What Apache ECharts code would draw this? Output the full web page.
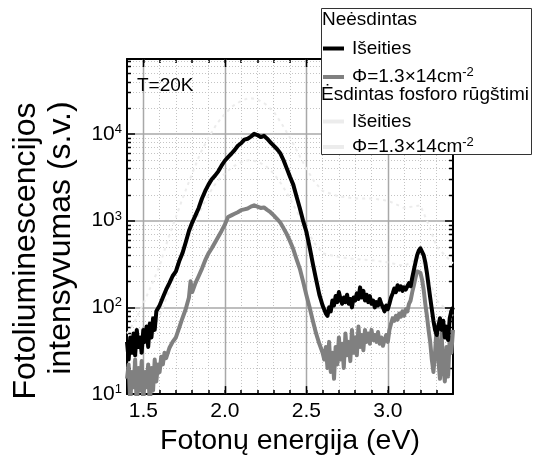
<!DOCTYPE html>
<html><head><meta charset="utf-8">
<script src="https://cdn.jsdelivr.net/npm/echarts@6/dist/echarts.min.js"></script>
<style>html,body{margin:0;padding:0;background:#fff}#c{width:539px;height:461px}</style>
</head><body><div id="c"></div>
<script>
// ---- data ----
var energyBlack = [1.40,1.41,1.42,1.43,1.44,1.45,1.46,1.47,1.48,1.49,1.50,1.51,1.52,1.53,1.54,1.55,1.56,1.57,1.58,1.60,1.62,1.64,1.66,1.68,1.70,1.72,1.74,1.76,1.78,1.80,1.82,1.84,1.86,1.88,1.90,1.92,1.94,1.96,1.98,2.00,2.02,2.04,2.06,2.08,2.10,2.12,2.14,2.16,2.18,2.20,2.22,2.24,2.26,2.28,2.30,2.32,2.34,2.36,2.38,2.40,2.42,2.44,2.46,2.48,2.50,2.52,2.54,2.56,2.58,2.60,2.62,2.63,2.64,2.65,2.66,2.67,2.68,2.69,2.70,2.71,2.72,2.73,2.74,2.75,2.76,2.77,2.78,2.79,2.80,2.81,2.82,2.83,2.84,2.85,2.86,2.87,2.88,2.89,2.90,2.91,2.92,2.93,2.94,2.95,2.96,2.97,2.98,2.99,3.00,3.01,3.02,3.03,3.04,3.05,3.06,3.07,3.08,3.09,3.10,3.11,3.12,3.13,3.14,3.15,3.16,3.17,3.18,3.19,3.20,3.21,3.22,3.23,3.24,3.25,3.26,3.27,3.28,3.29,3.30,3.31,3.32,3.33,3.34,3.35,3.36,3.37,3.38,3.39,3.40];
var intensityBlack = [40,25,45,30,50,28,55,35,45,30,55,40,60,35,65,45,75,55,90,105,130,160,190,230,260,340,420,560,760,950,1150,1400,1800,2200,2600,3000,3300,3700,4300,4900,5400,5900,6500,7300,7800,8600,8800,9300,10000,9700,9200,9500,8800,8000,7300,6700,6000,5000,4000,3200,2600,1900,1400,1000,750,500,320,210,140,105,85,80,100,90,120,105,135,115,150,125,110,130,115,140,110,125,100,130,120,145,125,170,130,155,120,140,115,135,110,120,100,115,105,125,110,100,90,105,95,110,130,145,165,150,180,160,175,155,170,160,175,190,175,220,270,330,400,450,480,460,400,330,250,180,130,95,70,55,48,60,75,55,70,45,60,42,75,90,100];

var energyGray = [1.40,1.41,1.42,1.43,1.44,1.45,1.46,1.47,1.48,1.49,1.50,1.51,1.52,1.53,1.54,1.55,1.56,1.57,1.58,1.59,1.60,1.61,1.62,1.63,1.64,1.66,1.68,1.70,1.72,1.74,1.76,1.78,1.79,1.80,1.82,1.84,1.86,1.88,1.90,1.92,1.94,1.96,1.98,2.00,2.02,2.04,2.06,2.08,2.10,2.12,2.14,2.16,2.18,2.20,2.22,2.24,2.26,2.28,2.30,2.32,2.34,2.36,2.38,2.40,2.42,2.44,2.46,2.48,2.50,2.52,2.54,2.56,2.58,2.60,2.61,2.62,2.63,2.64,2.65,2.66,2.67,2.68,2.69,2.70,2.71,2.72,2.73,2.74,2.75,2.76,2.77,2.78,2.79,2.80,2.81,2.82,2.83,2.84,2.85,2.86,2.87,2.88,2.89,2.90,2.91,2.92,2.93,2.94,2.95,2.96,2.97,2.98,2.99,3.00,3.01,3.02,3.03,3.04,3.05,3.06,3.07,3.08,3.09,3.10,3.11,3.12,3.13,3.14,3.15,3.16,3.17,3.18,3.19,3.20,3.21,3.22,3.23,3.24,3.25,3.26,3.27,3.28,3.29,3.30,3.31,3.32,3.33,3.34,3.35,3.36,3.37,3.38,3.39,3.40];
var intensityGray = [15,22,8,18,12,25,7,20,11,24,8,18,12,22,7,20,11,25,14,22,18,27,22,30,26,34,40,45,58,75,95,130,200,150,190,230,280,350,420,480,560,650,760,900,1100,1150,1200,1250,1320,1350,1380,1450,1500,1450,1400,1420,1330,1250,1150,1050,950,820,700,580,470,360,280,200,140,100,70,50,38,30,25,35,20,40,18,30,15,35,22,45,25,38,20,50,28,40,24,55,30,45,28,60,35,48,32,55,40,50,38,55,42,48,40,52,38,45,36,42,48,40,55,65,75,70,80,72,85,78,90,80,95,90,110,120,150,180,220,260,270,250,210,160,110,80,55,40,25,18,30,60,25,15,50,20,14,35,16,45,30,55];

var energyEtched = [1.40,1.45,1.50,1.55,1.60,1.65,1.70,1.75,1.80,1.85,1.90,1.95,2.00,2.05,2.10,2.15,2.20,2.25,2.30,2.35,2.40,2.45,2.50,2.55,2.60,2.70,2.80,2.90,3.00,3.10,3.20,3.25,3.30,3.40];
var intensityEtched = [50,70,110,180,300,600,1100,2000,3500,6000,9000,13000,17000,21000,24000,26000,25000,22000,18000,13000,9000,6000,4000,2800,2200,1900,1800,1800,1700,1400,1500,900,500,320];
var intensityEtchedPhi = [20,25,35,50,80,140,250,450,800,1300,2000,2800,3500,4200,4700,5000,4800,4300,3500,2600,1800,1200,800,550,420,380,360,350,330,300,380,220,120,80];

var seriesNames = ['Neėsdintas Išeities','Neėsdintas Φ','Ėsdintas Išeities','Ėsdintas Φ'];
var legendLabels = ['Išeities','Φ=1.3×14cm{sup|-2}','Išeities','Φ=1.3×14cm{sup|-2}'];
var legendHeaders = ['Neėsdintas','Ėsdintas fosforo rūgštimi'];
var yTitleLines = ['Fotoliuminescencijos','intensyvumas (s.v.)'];
var xTitle = 'Fotonų energija (eV)';
var xRange = [1.4, 3.4];
var yRange = [10, 73000];
var xMajorTicks = [1.5, 2.0, 2.5, 3.0];
var yDecades = [10, 100, 1000, 10000];
var logMinorMult = [2,3,4,5,6,7,8,9];
var annotation = 'T=20K';

// ---- build ----
function pairs(xs, ys){ return xs.map(function(x,i){ return [x, ys[i]]; }); }
var minorY = [];
yDecades.forEach(function(d){ logMinorMult.forEach(function(m){ var v=d*m; if (v<yRange[1]) minorY.push([xRange[0], v]); }); });
var majorX = xMajorTicks.map(function(x){ return [x, yRange[0]]; });
var FONT = 'Liberation Sans, Arial, sans-serif';
var supStyle = { fontSize: 13, fontFamily: FONT, color: '#000', verticalAlign: 'top', padding: [0,0,9,0] };

var chart = echarts.init(document.getElementById('c'));
function yLabel(v){
  var l = Math.log(v)/Math.LN10, e = Math.round(l);
  if (Math.abs(l-e) > 1e-6) return '';
  return '10{sup|' + e + '}';
}
function legendCfg(names, top, gap){
  return {
    data: names.map(function(n){ return { name: n, icon: 'rect' }; }),
    orient: 'vertical', left: 318, top: top,
    itemWidth: 21, itemHeight: 4, itemGap: gap, z: 20,
    formatter: function(n){ return legendLabels[seriesNames.indexOf(n)]; },
    textStyle: { color: '#000', fontSize: 19, fontFamily: FONT, padding: [0,0,0,3], rich: { sup: supStyle } }
  };
}
var option = {
  animation: false,
  backgroundColor: '#fff',
  grid: { left: 127, top: 59, width: 326, height: 340 },
  xAxis: [{
    type: 'value', min: xRange[0], max: xRange[1], interval: 0.1,
    axisLine: { lineStyle: { color: '#000', width: 2 } },
    axisTick: { inside: true, length: 4, lineStyle: { color: '#000', width: 1.5 } },
    axisLabel: { color: '#000', fontSize: 21, fontFamily: FONT, margin: 7,
      formatter: function(v){ for (var i=0;i<xMajorTicks.length;i++){ if (Math.abs(v-xMajorTicks[i])<1e-6) return v.toFixed(1);} return ''; } },
    splitLine: { show: true, lineStyle: { color: '#c4c4c4', type: [1,2], width: 1 } },
    name: xTitle, nameLocation: 'middle', nameGap: 31,
    nameTextStyle: { color: '#000', fontSize: 28.5, fontFamily: FONT }
  }, {
    type: 'value', position: 'top', min: xRange[0], max: xRange[1], interval: 0.1,
    axisLine: { lineStyle: { color: '#000', width: 2 } },
    axisTick: { inside: true, length: 4, lineStyle: { color: '#000', width: 1.5 } },
    axisLabel: { show: false }, splitLine: { show: false }
  }],
  yAxis: [{
    type: 'log', min: yRange[0], max: yRange[1], logBase: 10,
    axisLine: { lineStyle: { color: '#000', width: 2 } },
    axisTick: { inside: true, length: 8, lineStyle: { color: '#000', width: 1.5 } },
    axisLabel: { color: '#000', fontSize: 21, fontFamily: FONT, margin: 5, showMaxLabel: false, formatter: yLabel,
      rich: { sup: supStyle } },
    splitLine: { show: true, lineStyle: { color: '#a8a8a8', width: 1.5 } }
  }, {
    type: 'log', position: 'right', min: yRange[0], max: yRange[1], logBase: 10,
    axisLine: { lineStyle: { color: '#000', width: 2 } },
    axisTick: { inside: true, length: 8, lineStyle: { color: '#000', width: 1.5 } },
    axisLabel: { show: false }, splitLine: { show: false }
  }],
  legend: [ legendCfg([seriesNames[0], seriesNames[1]], 34, 8), legendCfg([seriesNames[2], seriesNames[3]], 107, 5) ],
  graphic: [
    { type: 'rect', left: 321, top: 8, shape: { width: 210, height: 146 }, style: { fill: '#fff', stroke: '#333', lineWidth: 1 }, z: 10 },
    { type: 'text', left: 322, top: 10, style: { text: legendHeaders[0], fontSize: 19, fontFamily: FONT, fill: '#000' }, z: 30 },
    { type: 'text', left: 321, top: 85, style: { text: legendHeaders[1], fontSize: 19, fontFamily: FONT, fill: '#000' }, z: 30 },
    { type: 'text', left: 137, top: 76, style: { text: annotation, fontSize: 19, fontFamily: FONT, fill: '#000' }, z: 30 },
    { type: 'text', x: 26, y: 251, rotation: Math.PI/2, style: { text: yTitleLines[0], fontSize: 32, fontFamily: FONT, fill: '#000', align: 'center', verticalAlign: 'middle' }, z: 30 },
    { type: 'text', x: 61, y: 238, rotation: Math.PI/2, style: { text: yTitleLines[1], fontSize: 32, fontFamily: FONT, fill: '#000', align: 'center', verticalAlign: 'middle' }, z: 30 }
  ],
  series: [
    { type: 'custom', silent: true, z: 1, xAxisIndex: 0, yAxisIndex: 0, data: minorY,
      renderItem: function(params, api){
        var v = api.value(1);
        var p1 = api.coord([xRange[0], v]), p2 = api.coord([xRange[1], v]);
        var y = Math.round(p1[1]) + 0.5;
        return { type: 'group', children: [
          { type: 'line', shape: { x1: p1[0], y1: y, x2: p2[0], y2: y }, style: { stroke: '#c4c4c4', lineWidth: 1, lineDash: [1,2] } },
          { type: 'line', shape: { x1: p1[0], y1: y, x2: p1[0]+4, y2: y }, style: { stroke: '#000', lineWidth: 1.5 } },
          { type: 'line', shape: { x1: p2[0]-4, y1: y, x2: p2[0], y2: y }, style: { stroke: '#000', lineWidth: 1.5 } }
        ] };
      } },
    { type: 'custom', silent: true, z: 1, xAxisIndex: 0, yAxisIndex: 0, data: majorX,
      renderItem: function(params, api){
        var x = api.value(0);
        var p1 = api.coord([x, yRange[0]]), p2 = api.coord([x, yRange[1]]);
        var xx = Math.round(p1[0]) + 0.5;
        return { type: 'group', children: [
          { type: 'line', shape: { x1: xx, y1: p1[1], x2: xx, y2: p2[1] }, style: { stroke: '#a8a8a8', lineWidth: 1.5 } },
          { type: 'line', shape: { x1: xx, y1: p1[1], x2: xx, y2: p1[1]-8 }, style: { stroke: '#000', lineWidth: 1.5 } },
          { type: 'line', shape: { x1: xx, y1: p2[1], x2: xx, y2: p2[1]+8 }, style: { stroke: '#000', lineWidth: 1.5 } }
        ] };
      } },
    { name: seriesNames[2], type: 'line', z: 2, showSymbol: false, symbol: 'none', data: pairs(energyEtched, intensityEtched),
      lineStyle: { color: '#ececec', width: 2, type: [3,4] }, itemStyle: { color: '#ececec' } },
    { name: seriesNames[3], type: 'line', z: 2, showSymbol: false, symbol: 'none', data: pairs(energyEtched, intensityEtchedPhi),
      lineStyle: { color: '#ececec', width: 2, type: [3,4] }, itemStyle: { color: '#ececec' } },
    { name: seriesNames[1], type: 'line', z: 3, showSymbol: false, symbol: 'none', data: pairs(energyGray, intensityGray),
      lineStyle: { color: '#808080', width: 4, join: 'round' }, itemStyle: { color: '#808080' } },
    { name: seriesNames[0], type: 'line', z: 4, showSymbol: false, symbol: 'none', data: pairs(energyBlack, intensityBlack),
      lineStyle: { color: '#000', width: 4, join: 'round' }, itemStyle: { color: '#000' } }
  ]
};
chart.setOption(option);
</script></body></html>
